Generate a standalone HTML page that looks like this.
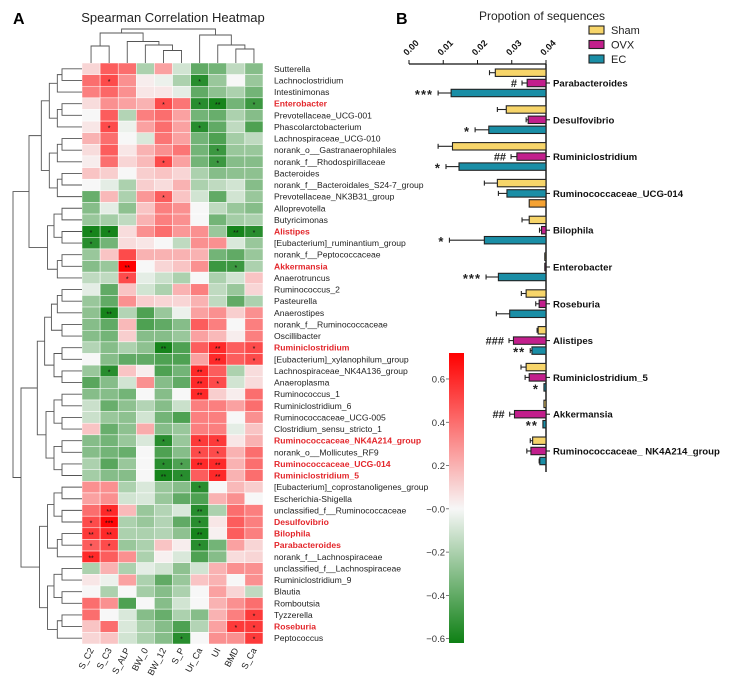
<!DOCTYPE html>
<html><head><meta charset="utf-8"><style>
html,body{margin:0;padding:0;background:#fff;}
svg{display:block;font-family:"Liberation Sans",Arial,sans-serif;}
</style></head><body>
<svg id="fig" width="735" height="690" viewBox="0 0 735 690" xmlns="http://www.w3.org/2000/svg">
<text x="13" y="24" font-size="16" font-weight="bold">A</text>
<text x="173" y="22" font-size="13" text-anchor="middle" fill="#222">Spearman Correlation Heatmap</text>
<text x="396" y="24" font-size="16" font-weight="bold">B</text>
<text x="542" y="20" font-size="12" text-anchor="middle" fill="#222">Propotion of sequences</text>
<g id="heat"></g>
<g id="dendro"></g>
<g id="cbar"></g>
<g id="bars"></g>
</svg>
<script>
// ---------- Heatmap data ----------
const heatCols = ["S_C2","S_C3","S_ALP","BW_0","BW_12","S_P","Ur_Ca","UI","BMD","S_Ca"];
const heatRows = ["Sutterella","Lachnoclostridium","Intestinimonas","Enterobacter","Prevotellaceae_UCG-001","Phascolarctobacterium","Lachnospiraceae_UCG-010","norank_o__Gastranaerophilales","norank_f__Rhodospirillaceae","Bacteroides","norank_f__Bacteroidales_S24-7_group","Prevotellaceae_NK3B31_group","Alloprevotella","Butyricimonas","Alistipes","[Eubacterium]_ruminantium_group","norank_f__Peptococcaceae","Akkermansia","Anaerotruncus","Ruminococcus_2","Pasteurella","Anaerostipes","norank_f__Ruminococcaceae","Oscillibacter","Ruminiclostridium","[Eubacterium]_xylanophilum_group","Lachnospiraceae_NK4A136_group","Anaeroplasma","Ruminococcus_1","Ruminiclostridium_6","Ruminococcaceae_UCG-005","Clostridium_sensu_stricto_1","Ruminococcaceae_NK4A214_group","norank_o__Mollicutes_RF9","Ruminococcaceae_UCG-014","Ruminiclostridium_5","[Eubacterium]_coprostanoligenes_group","Escherichia-Shigella","unclassified_f__Ruminococcaceae","Desulfovibrio","Bilophila","Parabacteroides","norank_f__Lachnospiraceae","unclassified_f__Lachnospiraceae","Ruminiclostridium_9","Blautia","Romboutsia","Tyzzerella","Roseburia","Peptococcus"];
const highlightRows = ["Enterobacter","Alistipes","Akkermansia","Ruminiclostridium","Ruminococcaceae_NK4A214_group","Ruminococcaceae_UCG-014","Ruminiclostridium_5","Desulfovibrio","Bilophila","Parabacteroides","Roseburia"];
const heatValues = [
[.1,.45,.4,-.2,.25,-.1,-.4,-.35,-.15,-.3],
[.4,.5,.3,.03,-.03,-.2,-.55,-.25,0,-.25],
[.35,.42,.3,.05,.05,-.05,-.4,-.28,-.2,-.35],
[.08,.3,.25,.2,.5,.38,-.55,-.6,-.35,-.5],
[0,.45,-.18,.35,.4,.25,-.35,-.38,-.2,-.3],
[.05,.5,-.03,.25,.4,.25,-.55,-.4,-.15,-.45],
[.2,.4,0,-.08,.38,.25,-.35,-.45,-.22,-.15],
[.08,.45,.05,.2,.3,.38,-.35,-.5,-.25,-.25],
[.03,.4,.1,.18,.5,.25,-.35,-.5,-.3,-.3],
[.15,.12,0,.12,.15,.1,-.2,-.3,-.28,-.28],
[0,-.05,-.2,.12,.08,.2,-.2,-.15,-.1,-.3],
[-.38,.18,-.2,.28,.45,.15,-.1,-.4,-.1,-.25],
[-.3,-.05,-.28,.15,.35,.3,0,-.15,-.25,-.3],
[-.25,-.22,-.15,.2,.35,.3,0,-.35,-.22,-.2],
[-.6,-.6,.08,.3,.4,.28,.3,-.25,-.6,-.55],
[-.55,-.35,.08,.05,0,-.15,.3,.3,-.08,-.25],
[-.25,.15,.5,.2,.2,.2,.2,-.35,-.4,-.25],
[-.3,-.25,.72,0,.1,.15,.3,-.5,-.5,-.2],
[-.15,-.15,.5,-.05,-.12,-.2,0,-.2,-.1,.15],
[-.05,-.4,.15,-.1,-.2,.2,.35,-.15,-.25,.1],
[-.25,-.4,.3,.12,.1,.1,.2,-.15,-.4,-.2],
[-.28,-.6,-.18,-.45,-.25,-.03,.25,.3,.12,.3],
[-.3,-.4,.18,-.45,-.4,-.3,.45,.35,0,.35],
[-.3,-.35,.12,-.3,-.3,-.25,.25,.18,.03,.35],
[-.18,-.3,-.2,-.28,-.6,-.45,.45,.6,.45,.5],
[0,-.3,-.4,-.4,-.45,-.45,.25,.6,.45,.5],
[-.25,-.55,.15,.03,-.45,-.35,.6,.45,-.2,.08],
[-.42,-.3,-.1,.3,-.3,-.4,.6,.5,-.1,.08],
[-.3,-.3,-.35,0,-.3,0,.6,.12,.03,.4],
[-.12,-.38,-.28,-.18,-.3,-.12,.35,.35,.25,.4],
[-.12,-.25,-.28,-.1,-.35,-.45,.35,.35,0,.3],
[.15,-.38,-.28,.22,-.3,-.25,.35,.35,-.05,.15],
[-.3,-.35,-.25,-.08,-.55,-.25,.55,.55,.05,.2],
[-.3,-.35,-.38,0,-.45,-.3,.5,.5,.2,.4],
[-.2,-.42,-.25,0,-.55,-.45,.6,.6,.2,.4],
[-.22,-.3,-.3,0,-.6,-.55,.45,.6,.2,.4],
[.3,.3,-.2,-.08,-.25,-.3,-.55,0,.18,.12],
[.25,.3,-.1,-.08,-.25,-.4,-.45,.2,.3,0],
[.4,.6,.18,-.25,-.18,-.08,-.55,-.2,.4,.35],
[.5,.7,-.2,-.25,-.18,-.4,-.55,.05,.45,.35],
[.55,.6,-.2,-.2,-.18,-.28,-.6,.02,.45,.35],
[.45,.5,-.25,-.2,.15,.03,-.55,-.35,.25,.1],
[.6,.45,.3,-.2,.02,-.08,-.45,-.3,.08,.1],
[-.2,.2,-.2,-.05,-.1,-.28,-.1,.2,.3,.3],
[.05,-.03,.25,-.2,-.4,-.25,.15,.2,0,.3],
[0,-.2,0,-.22,-.3,-.2,0,.25,.1,-.15],
[.4,.3,-.45,0,-.3,-.1,0,.2,.3,.4],
[.4,0,-.08,-.3,-.38,-.2,-.3,.2,.35,.55],
[.15,.4,-.08,-.2,-.3,-.45,-.18,.25,.55,.55],
[.1,.15,-.1,-.2,-.3,-.55,0,.3,.3,.55]];
const heatSig = [
["","","","","","","","","",""],
["","*","","","","","*","","",""],
["","","","","","","","","",""],
["","","","","*","","*","**","","*"],
["","","","","","","","","",""],
["","*","","","","","*","","",""],
["","","","","","","","","",""],
["","","","","","","","*","",""],
["","","","","*","","","*","",""],
["","","","","","","","","",""],
["","","","","","","","","",""],
["","","","","*","","","","",""],
["","","","","","","","","",""],
["","","","","","","","","",""],
["*","*","","","","","","","**","*"],
["*","","","","","","","","",""],
["","","","","","","","","",""],
["","","**","","","","","","*",""],
["","","*","","","","","","",""],
["","","","","","","","","",""],
["","","","","","","","","",""],
["","**","","","","","","","",""],
["","","","","","","","","",""],
["","","","","","","","","",""],
["","","","","**","","","**","","*"],
["","","","","","","","**","","*"],
["","*","","","","","**","","",""],
["","","","","","","**","*","",""],
["","","","","","","**","","",""],
["","","","","","","","","",""],
["","","","","","","","","",""],
["","","","","","","","","",""],
["","","","","*","","*","*","",""],
["","","","","","","*","*","",""],
["","","","","*","*","**","**","",""],
["","","","","**","*","","**","",""],
["","","","","","","*","","",""],
["","","","","","","","","",""],
["","**","","","","","**","","",""],
["*","***","","","","","*","","",""],
["**","**","","","","","**","","",""],
["*","*","","","","","*","","",""],
["**","","","","","","","","",""],
["","","","","","","","","",""],
["","","","","","","","","",""],
["","","","","","","","","",""],
["","","","","","","","","",""],
["","","","","","","","","","*"],
["","","","","","","","","*","*"],
["","","","","","*","","","","*"]];
const cbarTicks = [0.6,0.4,0.2,0.0,-0.2,-0.4,-0.6];
const cbarMax = 0.72, cbarMin = -0.62;

// ---------- Bar chart data ----------
const barGroups = ["Parabacteroides","Desulfovibrio","Ruminiclostridium","Ruminococcaceae_UCG-014","Bilophila","Enterobacter","Roseburia","Alistipes","Ruminiclostridium_5","Akkermansia","Ruminococcaceae_  NK4A214_group"];
const seriesNames = ["Sham","OVX","EC"];
const shamVals = [0.0148,0.0116,0.0273,0.0142,0.0049,0.0002,0.0058,0.0023,0.0058,0.0006,0.0039];
const shamErr  = [0.0017,0.0026,0.0042,0.0038,0.0021,0,0.0014,0.0003,0.0015,0,0.0007];
const ovxVals  = [0.0055,0.0052,0.0085,0.0114,0.0013,0.0002,0.0020,0.0095,0.0049,0.0092,0.0044];
const ovxErr   = [0.0015,0.0006,0.0017,0.0025,0.0006,0,0.0010,0.0013,0.0012,0.0014,0.0012];
const ecVals   = [0.0277,0.0167,0.0254,0.0049,0.0180,0.0139,0.0106,0.0041,0.0006,0.0009,0.0018];
const ecErr    = [0.0038,0.0040,0.0038,0,0.0102,0.0036,0.0039,0.0005,0,0,0.0002];
const axisTicks = ["0.00","0.01","0.02","0.03","0.04"];
const annotations = [
 {g:0,s:1,t:"#"},{g:0,s:2,t:"***"},{g:1,s:2,t:"*"},{g:2,s:1,t:"##"},{g:2,s:2,t:"*"},
 {g:4,s:2,t:"*"},{g:5,s:2,t:"***"},{g:7,s:1,t:"###"},{g:7,s:2,t:"**"},{g:8,s:2,t:"*"},
 {g:9,s:1,t:"##"},{g:9,s:2,t:"**"}];
</script>
<script>
const NS="http://www.w3.org/2000/svg";
function mk(tag,attrs,parent){const e=document.createElementNS(NS,tag);for(const k in attrs)e.setAttribute(k,attrs[k]);parent.appendChild(e);return e;}
const hx0=82, hy0=63, cw=18.1, rh=11.62;
const xCol=c=>hx0+c*cw, yRow=r=>hy0+r*rh;
function colorFor(v){
  const w=[247,247,247];
  let t,end;
  if(v>=0){t=Math.min(1,v/cbarMax);end=[255,0,0];}else{t=Math.min(1,v/cbarMin);end=[14,128,20];}
  const c=w.map((a,i)=>Math.round(a+(end[i]-a)*t));
  return `rgb(${c[0]},${c[1]},${c[2]})`;
}
const heat=document.getElementById('heat');
heatValues.forEach((row,r)=>{
  row.forEach((v,c)=>{
    const rc=mk('rect',{x:xCol(c),y:yRow(r),width:cw,height:rh,fill:colorFor(v),stroke:'#fff','stroke-width':0.5},heat);
    
    
    const s=heatSig[r][c];
    if(s){const t=mk('text',{x:xCol(c)+cw/2,y:yRow(r)+rh/2+3.5,'font-size':7,'text-anchor':'middle',fill:'#111'},heat);t.textContent=s;
      
      }
  });
  const hl=highlightRows.includes(heatRows[r]);
  const lb=mk('text',{x:274,y:yRow(r)+rh/2+3,'font-size':8.6,fill:hl?'#e3262b':'#222','font-weight':hl?'bold':'normal'},heat);
  lb.textContent=heatRows[r];
  
  
});
heatCols.forEach((n,c)=>{
  const x=xCol(c)+cw/2+3, y=650;
  const t=mk('text',{x:x,y:y,'font-size':9,'text-anchor':'end',fill:'#222',transform:`rotate(-62 ${x} ${y})`},heat);
  t.textContent=n;
  
  
});
const dg=document.getElementById('dendro');
const cc=i=>xCol(i)+cw/2;
function br(x1,x2,yTop,y1,y2){mk('path',{d:`M${x1} ${y1}V${yTop}H${x2}V${y2}`,fill:'none',stroke:'#555','stroke-width':0.9},dg);}
br(cc(0),cc(1),46,63,63);
br(cc(4),cc(5),50.5,63,63);
br(cc(3),(cc(4)+cc(5))/2,45,63,50.5);
br(cc(2),(cc(3)+(cc(4)+cc(5))/2)/2,41.5,63,45);
br((cc(0)+cc(1))/2,(cc(2)+(cc(3)+(cc(4)+cc(5))/2)/2)/2,33,46,41.5);
br(cc(8),cc(9),49,63,63);
br(cc(7),(cc(8)+cc(9))/2,45,63,49);
br(cc(6),(cc(7)+(cc(8)+cc(9))/2)/2,35,63,45);
const lm=((cc(0)+cc(1))/2+(cc(2)+(cc(3)+(cc(4)+cc(5))/2)/2)/2)/2;
const rm=(cc(6)+(cc(7)+(cc(8)+cc(9))/2)/2)/2;
br(lm,rm,29,33,35);
function lbr(y1,y2,xl,x1,x2){mk('path',{d:`M${x1} ${y1}H${xl}V${y2}H${x2}`,fill:'none',stroke:'#555','stroke-width':0.9},dg);}
function tree(a,b){
  if(a===b) return {y:yRow(a)+rh/2,x:hx0};
  const m=Math.floor((a+b)/2);
  const L=tree(a,m),R=tree(m+1,b);
  const n=b-a+1;
  let x=hx0-(12+8*Math.log2(n));
  x=Math.min(x,Math.min(L.x,R.x)-2);
  lbr(L.y,R.y,x,L.x,R.x);
  return {y:(L.y+R.y)/2,x:x};
}
const t1=tree(0,11),t2=tree(12,18),t3=tree(19,35),t4=tree(36,49);
lbr(t1.y,t2.y,29,t1.x,t2.x);
lbr(t3.y,t4.y,21,t3.x,t4.x);
lbr((t1.y+t2.y)/2,(t3.y+t4.y)/2,13,29,21);
const cb=document.getElementById('cbar');
const defs=mk('defs',{},cb);
const gr=mk('linearGradient',{id:'cg',x1:0,y1:0,x2:0,y2:1},defs);
const cbTop=353,cbBot=643,cbY=v=>cbTop+(cbarMax-v)/(cbarMax-cbarMin)*(cbBot-cbTop);
const zeroOff=(cbY(0)-cbTop)/(cbBot-cbTop);
mk('stop',{offset:0,'stop-color':colorFor(cbarMax)},gr);
mk('stop',{offset:zeroOff,'stop-color':colorFor(0)},gr);
mk('stop',{offset:1,'stop-color':colorFor(cbarMin)},gr);
const cbr=mk('rect',{x:449,y:cbTop,width:15,height:cbBot-cbTop,fill:'url(#cg)'},cb);


cbarTicks.forEach(v=>{
  const y=cbY(v);
  mk('line',{x1:446,x2:449,y1:y,y2:y,stroke:'#444','stroke-width':0.7},cb);
  const t=mk('text',{x:445,y:y+3.5,'font-size':9.5,'text-anchor':'end',fill:'#333'},cb);
  t.textContent=(v===0?'\u22120.0':(v<0?'\u2212'+Math.abs(v).toFixed(1):v.toFixed(1)));
  
  
});
const bg=document.getElementById('bars');
const ax0=409, ax1=546, axY=64, axBot=472;
const sx=v=>ax0+(v/0.04)*(ax1-ax0);
const len=v=>(v/0.04)*(ax1-ax0);
const gY=i=>83+i*36.8;
const offs=[-10.3,0,10];
const cols=["#f7d56a","#c21f8c","#1a8ea6"];
mk('line',{x1:ax0,x2:ax1,y1:axY,y2:axY,stroke:'#111','stroke-width':1.2},bg);
mk('line',{x1:ax1,x2:ax1,y1:axY,y2:axBot,stroke:'#111','stroke-width':1.4},bg);
axisTicks.forEach((t,i)=>{
  const x=sx(parseFloat(t));
  mk('line',{x1:x,x2:x,y1:axY,y2:axY-4,stroke:'#111','stroke-width':1},bg);
  const tx=mk('text',{x:x-2,y:axY-8,'font-size':9,'font-weight':'bold',fill:'#111',transform:`rotate(-45 ${x-2} ${axY-8})`},bg);
  tx.textContent=t;
  
  
});
const seriesVals=[shamVals,ovxVals,ecVals], seriesErr=[shamErr,ovxErr,ecErr];
barGroups.forEach((g,i)=>{
  const y=gY(i);
  mk('line',{x1:ax1,x2:ax1+4,y1:y,y2:y,stroke:'#111','stroke-width':1},bg);
  const lt=mk('text',{x:553,y:y+3.5,'font-size':9.6,'font-weight':'bold',fill:'#111'},bg);
  lt.textContent=g;
  
  
  for(let s=0;s<3;s++){
    const v=seriesVals[s][i], e=seriesErr[s][i];
    const by=y+offs[s];
    let fill=cols[s];
    if(i===3){fill=s===1?cols[2]:(s===2?'#f5a233':cols[0]);}
    const L=Math.max(len(v),1.2);
    const r=mk('rect',{x:ax1-L,y:by-3.7,width:L,height:7.4,fill:fill,stroke:'#222','stroke-width':1.1},bg);
    
    
    if(e>0){
      const xe=ax1-len(v+e);
      mk('line',{x1:ax1-L,x2:xe,y1:by,y2:by,stroke:'#222','stroke-width':1.1},bg);
      mk('line',{x1:xe,x2:xe,y1:by-2.5,y2:by+2.5,stroke:'#222','stroke-width':1.1},bg);
    }
  }
});
annotations.forEach(a=>{
  const v=seriesVals[a.s][a.g]+seriesErr[a.s][a.g];
  const x=ax1-len(v)-5, y=gY(a.g)+offs[a.s];
  const star=a.t[0]==='*';
  const t=mk('text',{x:x,y:y+(star?6:4),'font-size':star?13:11,'font-weight':'bold','text-anchor':'end',fill:'#222','letter-spacing':star?'1':'0'},bg);
  t.textContent=a.t;
  
  
});
seriesNames.forEach((n,i)=>{
  const y=30+i*14.5;
  const r=mk('rect',{x:589,y:y-4,width:15,height:8,fill:cols[i],stroke:'#222','stroke-width':1.1},bg);
  
  
  const t=mk('text',{x:611,y:y+4,'font-size':11,fill:'#222'},bg);
  t.textContent=n;
  
  
});
</script>
</body></html>
